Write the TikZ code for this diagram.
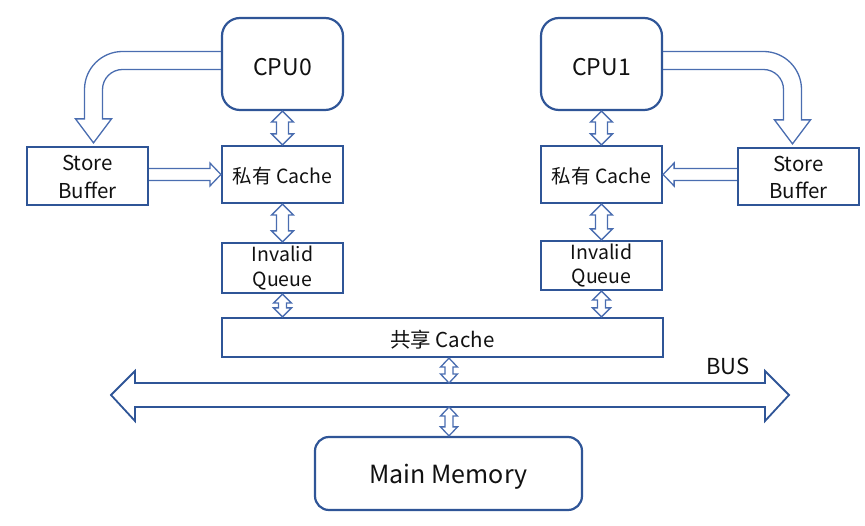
\documentclass[tikz,border=0pt]{standalone}
\usepackage{fontspec}
\setmainfont{Noto Sans CJK SC}
\usetikzlibrary{calc}
\definecolor{boxblue}{HTML}{2F5597}
\definecolor{arrblue}{HTML}{4A6DB0}
\definecolor{txt}{HTML}{111111}
% vertical double arrow: #1 top anchor, #2 bottom anchor, #3 half shaft, #4 half head, #5 head length
\newcommand\vdarrow[5]{%
  \draw[arrowline] let \p1=(#1), \p2=(#2) in
    (\x1,\y1) -- (\x1+#4,\y1-#5) -- (\x1+#3,\y1-#5) -- (\x1+#3,\y2+#5) -- (\x1+#4,\y2+#5)
    -- (\x1,\y2) -- (\x1-#4,\y2+#5) -- (\x1-#3,\y2+#5) -- (\x1-#3,\y1-#5) -- (\x1-#4,\y1-#5) -- cycle;}
% lower text by half of #1 inside its node
\newcommand\lowtext[2]{\raisebox{0pt}[\dimexpr\height+#1\relax]{#2}}
\begin{document}
\begin{tikzpicture}[x=1pt,y=-1pt,
  boxnode/.style={draw=boxblue,line width=2.2pt,fill=white,inner sep=0pt,text=txt,align=center},
  cpubox/.style={boxnode,rounded corners=18pt,minimum width=121pt,minimum height=92pt,font=\fontsize{23}{26}\selectfont},
  plainbox/.style={boxnode,minimum width=121pt},
  arrowline/.style={draw=arrblue,line width=1.3pt,line join=miter},
  busline/.style={draw=boxblue,line width=1.8pt,line join=miter}]
\useasboundingbox (0,0) rectangle (865,526);
% nodes
\node[cpubox] (cpu0) at (282.5,64) {\lowtext{6pt}{CPU0}};
\node[cpubox] (cpu1) at (601.5,64) {\lowtext{6pt}{CPU1}};
\node[plainbox,minimum height=58pt,font=\fontsize{20.5}{27.5}\selectfont] (sb0) at (87.5,176) {\lowtext{2pt}{Store}\\Buffer};
\node[plainbox,minimum height=57pt,font=\fontsize{20.5}{27.5}\selectfont] (sb1) at (798.5,176.5) {\lowtext{2pt}{Store}\\Buffer};
\node[plainbox,minimum height=57pt,font=\fontsize{19.5}{24}\selectfont] (pc0) at (282.5,174.5) {\lowtext{4pt}{私有 Cache}};
\node[plainbox,minimum height=57pt,font=\fontsize{19.5}{24}\selectfont] (pc1) at (601.5,174.5) {\lowtext{4pt}{私有 Cache}};
\node[plainbox,minimum height=50pt,font=\fontsize{19.5}{24.5}\selectfont] (iq0) at (282.5,268) {Invalid\\Queue};
\node[plainbox,minimum height=49pt,font=\fontsize{19.5}{24.5}\selectfont] (iq1) at (601.5,265.5) {Invalid\\Queue};
\node[boxnode,minimum width=441pt,minimum height=39pt,font=\fontsize{20.5}{24}\selectfont] (sc) at (442.5,337.5) {\lowtext{4pt}{共享 Cache}};
\node[boxnode,rounded corners=14pt,minimum width=267pt,minimum height=73pt,font=\fontsize{25}{28}\selectfont] (mm) at (448.5,473.5) {\lowtext{6pt}{Main Memory}};
% bus
\draw[busline] (111,395) -- (135,371) -- (135,383) -- (765,383) -- (765,371) -- (789,395)
  -- (765,421) -- (765,407) -- (135,407) -- (135,421) -- cycle;
\coordinate (bustop) at (449,383);
\coordinate (busbot) at (449,407);
\node[text=txt,font=\fontsize{22}{24}\selectfont,inner sep=0pt] (buslabel) at (728,366) {BUS};
% vertical double arrows
\vdarrow{cpu0.south}{pc0.north}{6pt}{11pt}{11pt}
\vdarrow{pc0.south}{iq0.north}{6pt}{11pt}{11pt}
\vdarrow{iq0.south}{iq0.south |- sc.north}{4pt}{9pt}{9pt}
\vdarrow{cpu1.south}{pc1.north}{6pt}{11pt}{11pt}
\vdarrow{pc1.south}{iq1.north}{6pt}{11pt}{11pt}
\vdarrow{iq1.south}{iq1.south |- sc.north}{4pt}{9pt}{9pt}
\vdarrow{sc.south -| bustop}{bustop}{4pt}{8.5pt}{9pt}
\vdarrow{busbot}{mm.north -| busbot}{4pt}{8.5pt}{9pt}
% store buffer -> private cache
\draw[arrowline] let \p1=(sb0.east), \p2=(pc0.west) in
  (\x1,\y2+6pt) -- (\x2-11pt,\y2+6pt) -- (\x2-11pt,\y2+11.5pt) -- (\x2,\y2)
  -- (\x2-11pt,\y2-11.5pt) -- (\x2-11pt,\y2-6pt) -- (\x1,\y2-6pt);
\draw[arrowline] let \p1=(sb1.west), \p2=(pc1.east) in
  (\x1,\y2+6pt) -- (\x2+11pt,\y2+6pt) -- (\x2+11pt,\y2+11.5pt) -- (\x2,\y2)
  -- (\x2+11pt,\y2-11.5pt) -- (\x2+11pt,\y2-6pt) -- (\x1,\y2-6pt);
% curved arrows cpu -> store buffer
\draw[arrowline] let \p1=(cpu0.west), \p2=(sb0.north), \p3=(\x2+6pt,\y1+3.5pt) in
  (\x1,\y3+9pt) -- (\x3+29pt,\y3+9pt) arc[start angle=90,end angle=180,radius=38pt]
  -- (\x3-9pt,\y2+27pt) -- (\x3-18pt,\y2+27pt) -- (\x3,\y2+3pt) -- (\x3+18pt,\y2+27pt)
  -- (\x3+9pt,\y2+27pt) -- (\x3+9pt,\y3-29pt) arc[start angle=180,end angle=90,radius=20pt]
  -- (\x1,\y3-9pt);
\draw[arrowline] let \p1=(cpu1.east), \p2=(sb1.north), \p3=(\x2-6pt,\y1+3.5pt) in
  (\x1,\y3+9pt) -- (\x3-29pt,\y3+9pt) arc[start angle=90,end angle=0,radius=38pt]
  -- (\x3+9pt,\y2+27pt) -- (\x3+18pt,\y2+27pt) -- (\x3,\y2+3pt) -- (\x3-18pt,\y2+27pt)
  -- (\x3-9pt,\y2+27pt) -- (\x3-9pt,\y3-29pt) arc[start angle=0,end angle=90,radius=20pt]
  -- (\x1,\y3-9pt);
\end{tikzpicture}
\end{document}
